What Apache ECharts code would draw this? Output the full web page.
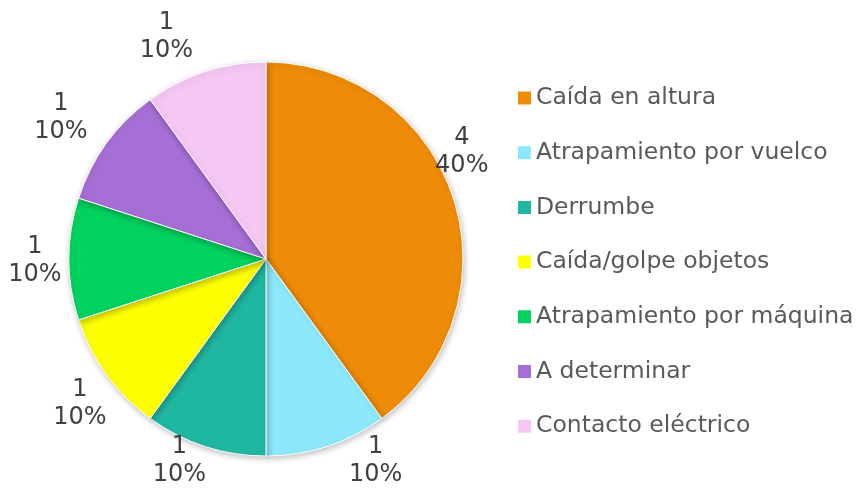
<!DOCTYPE html>
<html>
<head>
<meta charset="utf-8">
<script src="https://cdn.jsdelivr.net/npm/echarts@6/dist/echarts.min.js"></script>
<style>
  html, body { margin: 0; padding: 0; background: #fff; }
  #chart { width: 864px; height: 488px; }
</style>
</head>
<body>
<div id="chart"></div>
<script>
// categories and counts
var categories = ['Caída en altura', 'Atrapamiento por vuelco', 'Derrumbe', 'Caída/golpe objetos', 'Atrapamiento por máquina', 'A determinar', 'Contacto eléctrico'];
var counts = [4, 1, 1, 1, 1, 1, 1];
var colors = ['#EE8C08', '#8CE9FB', '#20B7A2', '#FFFF00', '#00D35F', '#A66FD6', '#F5C8F3'];

var data = [];
categories.forEach(function (name, i) {
  data.push({ name: name, value: counts[i], itemStyle: { color: colors[i] } });
});

// small nudges so the data labels sit where Excel put them
var labelNudge = [[-37, -43], [11, 3], [12, 3], [17, 22], [4, 2], [-2, -18], [-1, -23]];

var chart = echarts.init(document.getElementById('chart'));
chart.setOption({
  animation: false,
  textStyle: { fontFamily: 'DejaVu Sans' },
  legend: {
    orient: 'vertical',
    left: 511,
    top: 81,
    itemWidth: 15,
    itemHeight: 15,
    itemGap: 30.7,
    icon: 'rect',
    textStyle: { fontSize: 23.5, color: '#595959', padding: [0, 0, 0, -1] },
    data: categories
  },
  series: [{
    type: 'pie',
    center: [266, 259],
    radius: 197,
    startAngle: 90,
    clockwise: true,
    data: data,
    itemStyle: {
      borderColor: '#ffffff',
      borderWidth: 1,
      shadowColor: 'rgba(0,0,0,0.25)',
      shadowBlur: 6,
      shadowOffsetX: 1,
      shadowOffsetY: 2
    },
    label: {
      position: 'outside',
      formatter: function (p) { return '{v|' + p.value + '}\n{v|' + Math.round(p.percent) + '%}'; },
      overflow: 'none',
      rich: {
        v: { fontSize: 24, lineHeight: 28, color: '#404040', width: 58, align: 'center' }
      }
    },
    labelLine: { show: false, length: 12, length2: 0 },
    labelLayout: function (p) {
      var n = labelNudge[p.dataIndex];
      return { dx: n[0], dy: n[1] };
    },
    emphasis: { disabled: true }
  }]
});
</script>
</body>
</html>
